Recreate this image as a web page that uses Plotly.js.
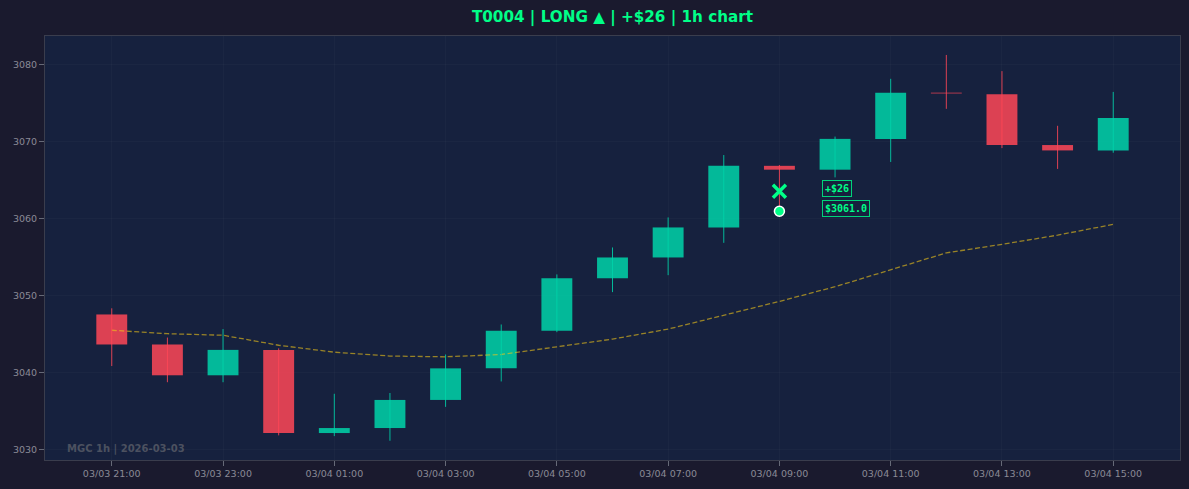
<!DOCTYPE html>
<html>
<head>
<meta charset="utf-8">
<script src="https://cdn.plot.ly/plotly-3.0.1.min.js"></script>
<style>
  html, body { margin: 0; padding: 0; background: #1a1a2e; }
  #chart { width: 1189px; height: 489px; }
</style>
</head>
<body>
<div id="chart"></div>
<script>
// ---- data ----
var times = [
  '2026-03-03 21:00', '2026-03-03 22:00', '2026-03-03 23:00',
  '2026-03-04 00:00', '2026-03-04 01:00', '2026-03-04 02:00',
  '2026-03-04 03:00', '2026-03-04 04:00', '2026-03-04 05:00',
  '2026-03-04 06:00', '2026-03-04 07:00', '2026-03-04 08:00',
  '2026-03-04 09:00', '2026-03-04 10:00', '2026-03-04 11:00',
  '2026-03-04 12:00', '2026-03-04 13:00', '2026-03-04 14:00',
  '2026-03-04 15:00'
];
var openP  = [3047.6, 3043.7, 3039.7, 3043.0, 3032.2, 3032.85, 3036.5, 3040.6, 3045.5, 3052.3, 3055.0, 3058.9, 3066.9, 3066.4, 3070.4, 3076.4, 3076.2, 3069.6, 3068.9];
var closeP = [3043.7, 3039.7, 3043.0, 3032.2, 3032.85, 3036.5, 3040.6, 3045.5, 3052.3, 3055.0, 3058.9, 3066.9, 3066.4, 3070.4, 3076.4, 3076.3, 3069.6, 3068.9, 3073.1];
var highP  = [3048.4, 3044.6, 3045.7, 3043.2, 3037.3, 3037.4, 3042.4, 3046.3, 3052.8, 3056.3, 3060.2, 3068.3, 3067.0, 3070.7, 3078.2, 3081.3, 3079.2, 3072.1, 3076.5];
var lowP   = [3040.9, 3038.8, 3038.8, 3031.9, 3031.8, 3031.2, 3035.6, 3038.9, 3045.3, 3050.5, 3052.7, 3056.9, 3061.7, 3065.4, 3067.4, 3074.3, 3069.2, 3066.5, 3068.6];
var sma    = [3045.55, 3045.1, 3044.9, 3043.6, 3042.7, 3042.2, 3042.1, 3042.4, 3043.4, 3044.4, 3045.7, 3047.45, 3049.3, 3051.2, 3053.4, 3055.6, 3056.7, 3057.9, 3059.3];

var entryTime = '2026-03-04 09:00';
var entryPrice = 3061.0;
var exitTime = '2026-03-04 09:00';
var exitPrice = 3063.6;
var pnlText = '+$26';
var entryText = '$3061.0';
var titleText = 'T0004 | LONG \u25B2 | +$26 | 1h chart';
var watermarkText = 'MGC 1h | 2026-03-03';

// ---- styling ----
var UP = '#00d4aa', DOWN = '#ff4757';

// build traces from data
var upX = [], upBase = [], upH = [], dnX = [], dnBase = [], dnH = [];
var upWx = [], upWy = [], dnWx = [], dnWy = [];
for (var i = 0; i < times.length; i++) {
  var up = closeP[i] >= openP[i];
  var b = Math.min(openP[i], closeP[i]);
  var h = Math.abs(closeP[i] - openP[i]);
  if (up) {
    upX.push(times[i]); upBase.push(b); upH.push(h);
    upWx.push(times[i], times[i], null); upWy.push(lowP[i], highP[i], null);
  } else {
    dnX.push(times[i]); dnBase.push(b); dnH.push(h);
    dnWx.push(times[i], times[i], null); dnWy.push(lowP[i], highP[i], null);
  }
}
var barW = 2000000;

var traces = [
  { type: 'scatter', mode: 'lines', x: times, y: sma, hoverinfo: 'skip',
    line: { color: '#f0c419', width: 1.3, dash: '5px,2.5px' }, opacity: 0.6, showlegend: false },
  { type: 'scatter', mode: 'lines', x: upWx, y: upWy, hoverinfo: 'skip',
    line: { color: UP, width: 1 }, opacity: 0.85, showlegend: false },
  { type: 'scatter', mode: 'lines', x: dnWx, y: dnWy, hoverinfo: 'skip',
    line: { color: DOWN, width: 1 }, opacity: 0.85, showlegend: false },
  { type: 'bar', x: upX, y: upH, base: upBase, width: barW,
    marker: { color: UP, line: { width: 0 } }, opacity: 0.85, showlegend: false },
  { type: 'bar', x: dnX, y: dnH, base: dnBase, width: barW,
    marker: { color: DOWN, line: { width: 0 } }, opacity: 0.85, showlegend: false },
  { type: 'scatter', mode: 'markers', x: [exitTime], y: [exitPrice],
    marker: { symbol: 'x-thin', size: 13, color: '#00ff88', line: { color: '#00ff88', width: 3.5 } }, showlegend: false },
  { type: 'scatter', mode: 'markers', x: [entryTime], y: [entryPrice],
    marker: { symbol: 'circle', size: 10, color: '#00ff88', line: { color: '#ffffff', width: 1.5 } }, showlegend: false }
];

var axisCommon = {
  showline: true, linecolor: '#3a3d4d', linewidth: 1, mirror: true,
  ticks: 'outside', ticklen: 5, tickcolor: '#666a78',
  gridcolor: 'rgba(255,255,255,0.022)', zeroline: false,
  tickfont: { family: 'DejaVu Sans', size: 9.5, color: '#8a8a96' }
};

var layout = {
  width: 1189, height: 489,
  margin: { l: 45, r: 9, t: 36, b: 29 },
  paper_bgcolor: '#1a1a2e',
  plot_bgcolor: '#16213e',
  barmode: 'overlay',
  showlegend: false,
  title: {
    text: '<b>' + titleText + '</b>',
    font: { family: 'DejaVu Sans', size: 15.2, color: '#00ff88' },
    x: 0.5, xref: 'paper', xanchor: 'center',
    y: 1 - 17 / 489, yref: 'container', yanchor: 'middle'
  },
  xaxis: Object.assign({}, axisCommon, {
    type: 'date',
    range: ['2026-03-03 19:48', '2026-03-04 16:12'],
    tick0: '2026-03-03 21:00', dtick: 7200000,
    tickformat: '%m/%d %H:%M'
  }),
  yaxis: Object.assign({}, axisCommon, {
    range: [3028.7, 3083.76],
    dtick: 10, tick0: 3030
  }),
  annotations: [
    { x: exitTime, y: exitPrice, xref: 'x', yref: 'y', xanchor: 'left', yanchor: 'middle',
      xshift: 43, yshift: 3, showarrow: false,
      text: '<b>' + pnlText + '</b>',
      font: { family: 'DejaVu Sans Mono', size: 10, color: '#00ff88' },
      bgcolor: '#16213e', bordercolor: '#00d47a', borderwidth: 1, borderpad: 2 },
    { x: entryTime, y: entryPrice, xref: 'x', yref: 'y', xanchor: 'left', yanchor: 'middle',
      xshift: 43, yshift: 3, showarrow: false,
      text: '<b>' + entryText + '</b>',
      font: { family: 'DejaVu Sans Mono', size: 10, color: '#00ff88' },
      bgcolor: '#16213e', bordercolor: '#00d47a', borderwidth: 1, borderpad: 2 },
    { x: 0.018, y: 0.007, xref: 'paper', yref: 'paper', xanchor: 'left', yanchor: 'bottom',
      showarrow: false, text: '<b>' + watermarkText + '</b>',
      font: { family: 'DejaVu Sans', size: 10, color: 'rgba(130,130,130,0.5)' } }
  ]
};

Plotly.newPlot('chart', traces, layout, { displayModeBar: false, staticPlot: true });
</script>
</body>
</html>
